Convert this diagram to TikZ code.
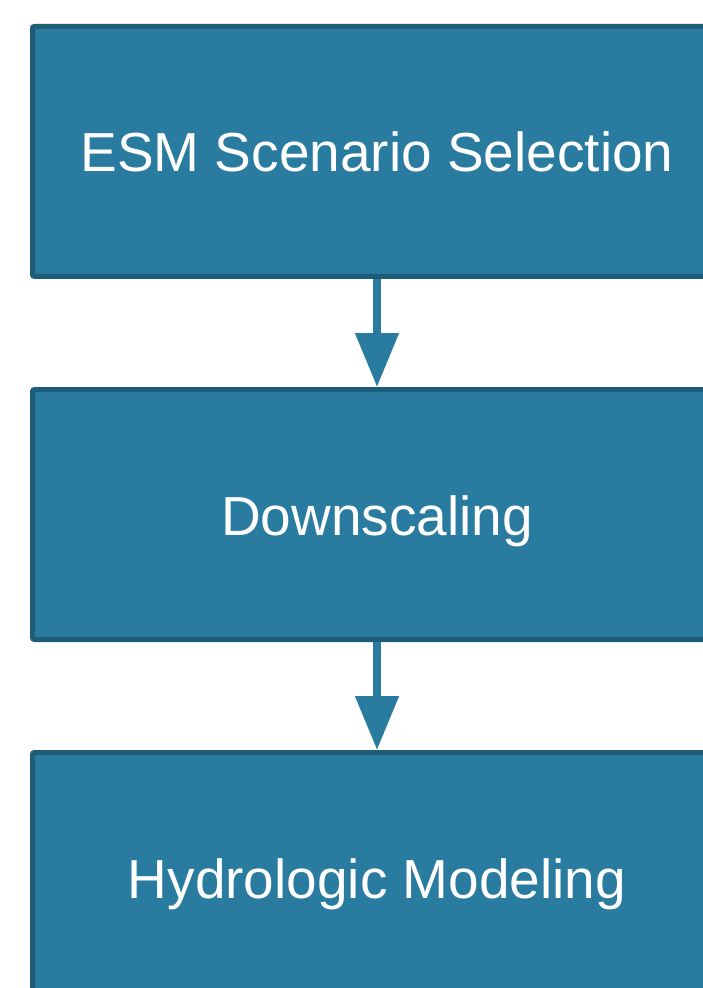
\documentclass[tikz,border=0pt]{standalone}
\usepackage{fontspec}
\setmainfont{Liberation Sans}
\usetikzlibrary{arrows.meta}
\definecolor{boxfill}{HTML}{297BA0}
\definecolor{boxedge}{HTML}{1E5D77}
\begin{document}
\begin{tikzpicture}[x=1pt,y=-1pt,
  stage/.style={draw=boxedge, fill=boxfill, line width=5pt, rounded corners=2pt,
    minimum width=689pt, minimum height=250pt, inner sep=0pt,
    text height=41pt, text depth=0pt,
    text=white, font=\fontsize{55}{66}\selectfont},
  flow/.style={draw=boxfill, line width=8pt, -{Triangle[length=54pt,width=42pt]}}]
\useasboundingbox (0,0) rectangle (702,988);
\node[stage] (esm) at (377,151.4) {ESM Scenario Selection};
\node[stage] (down) at (377,514.5) {Downscaling};
\node[stage] (hydro) at (377,877.5) {Hydrologic Modeling};
\draw[flow] (esm.south) -- (down.north);
\draw[flow] (down.south) -- (hydro.north);
\end{tikzpicture}
\end{document}
